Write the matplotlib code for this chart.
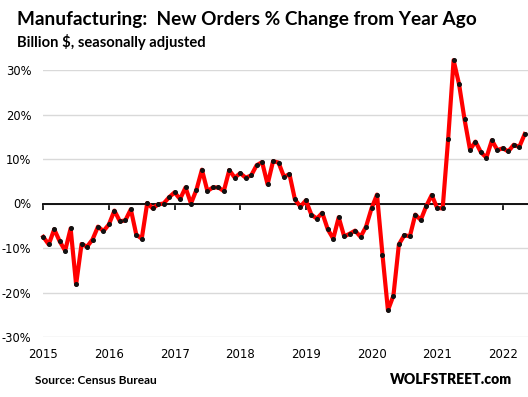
import matplotlib
matplotlib.use("Agg")
import matplotlib.pyplot as plt
import matplotlib.transforms as mtransforms
import numpy as np

plt.rcParams["axes.unicode_minus"] = False

# monthly YoY % change, Jan 2015 .. May 2022
v2015 = [-7.5, -9.2, -5.8, -8.5, -10.6, -5.6, -18.2, -9.1, -9.7, -8.1, -5.2, -6.2]
v2016 = [-4.7, -1.6, -4.0, -3.8, -1.3, -7.0, -7.9, 0.1, -1.1, -0.2, 0.0, 1.4]
v2017 = [2.5, 1.0, 3.6, 0.0, 3.1, 7.6, 2.8, 3.6, 3.6, 2.8, 7.5, 5.8]
v2018 = [6.8, 5.8, 6.3, 8.6, 9.3, 4.3, 9.5, 9.2, 6.0, 6.6, 0.9, -0.7]
v2019 = [0.7, -2.5, -3.4, -2.1, -5.8, -7.9, -3.1, -7.4, -6.8, -6.1, -7.5, -5.2]
v2020 = [-1.1, 2.0, -11.5, -24.0, -20.7, -9.2, -7.1, -7.4, -2.5, -3.7, -0.6, 1.9]
v2021 = [-1.0, -1.1, 14.4, 32.2, 26.8, 18.9, 12.1, 13.9, 11.5, 10.3, 14.2, 12.0]
v2022 = [12.4, 11.7, 13.2, 12.7, 15.6]

values = v2015 + v2016 + v2017 + v2018 + v2019 + v2020 + v2021 + v2022
years = ["2015", "2016", "2017", "2018", "2019", "2020", "2021", "2022"]
yticks = [30, 20, 10, 0, -10, -20, -30]

months = np.arange(len(values))

fig = plt.figure(figsize=(5.28, 3.97), dpi=100)
ax = fig.add_axes([43 / 528, 60 / 397, 485 / 528, 267 / 397])

ax.set_xlim(-0.05, 88.6)
ax.set_ylim(-30, 30)

for s in ["top", "right", "left"]:
    ax.spines[s].set_visible(False)
ax.spines["bottom"].set_position(("data", 0))
ax.spines["bottom"].set_linewidth(1.3)
ax.spines["bottom"].set_zorder(2)

year_pos = [12 * i for i in range(len(years))]
ax.set_xticks(year_pos)
ax.set_xticklabels([])
ax.tick_params(axis="x", direction="out", length=4, width=1.2, color="black")

ax.set_yticks(yticks)
ax.set_yticklabels([f"{t}%" for t in yticks], fontsize=8.3, family="DejaVu Sans")
ax.tick_params(axis="y", length=0, pad=8.5)
ax.yaxis.grid(True, color="#d9d9d9", linewidth=1)
ax.set_axisbelow(True)

trans = mtransforms.blended_transform_factory(ax.transData, ax.transAxes)
for pos, lab in zip(year_pos, years):
    ax.text(pos, -0.065, lab, transform=trans, ha="center", va="center",
            fontsize=8.5, family="DejaVu Sans")

ax.plot(months, values, color="#ff0000", linewidth=3, zorder=3, clip_on=False,
        solid_joinstyle="round")
ax.plot(months, values, linestyle="none", marker="o", markersize=2.6,
        color="#111111", zorder=4, clip_on=False)

fig.text(17 / 528, 1 - 20 / 397, "Manufacturing:  New Orders % Change from Year Ago",
         fontsize=13.7, fontweight="bold", family="Lato", ha="left", va="center")
fig.text(17 / 528, 1 - 42 / 397, "Billion $, seasonally adjusted",
         fontsize=10.6, fontweight="bold", family="Lato", ha="left", va="center")
fig.text(35 / 528, 1 - 380 / 397, "Source: Census Bureau",
         fontsize=8.6, fontweight="bold", family="Lato", ha="left", va="center")
fig.text(512 / 528, 1 - 380 / 397, "WOLFSTREET.com",
         fontsize=10.1, fontweight="heavy", family="Lato", ha="right", va="center")

fig.savefig("out.png", dpi=100)
